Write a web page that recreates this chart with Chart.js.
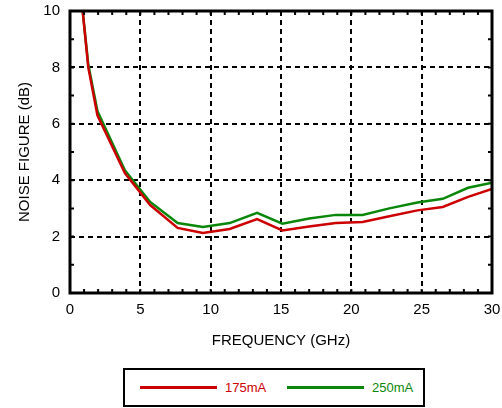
<!DOCTYPE html>
<html>
<head>
<meta charset="utf-8">
<script src="https://cdn.jsdelivr.net/npm/chart.js@4/dist/chart.umd.min.js"></script>
<style>
  html, body { margin: 0; padding: 0; background: #fff; }
  #wrap { position: relative; width: 502px; height: 408px; }
  #box { position: absolute; left: 0; top: 0; width: 502px; height: 360px; }
  #legend { position: absolute; left: 123px; top: 368px; width: 298px; height: 35px;
            border: 2px solid #000; font-family: "Liberation Sans", Arial, sans-serif; font-size: 13px; }
  .item { position: absolute; top: 0; height: 35px; display: flex; align-items: center; }
  .swatch { display: inline-block; width: 77px; height: 3px; margin-right: 8px; }
</style>
</head>
<body>
<div id="wrap">
  <div id="box"><canvas id="c"></canvas></div>
  <div id="legend"></div>
</div>
<script>
// ---- data ----
const freqGHz   = [0.9, 1.3, 1.95, 3.9, 5.7, 7.65, 9.45, 11.35, 13.3, 15.1, 17.0, 18.9, 20.8, 22.7, 24.7, 26.5, 28.3, 30];
const nf175mA   = [10, 8.0, 6.3, 4.25, 3.12, 2.31, 2.13, 2.27, 2.62, 2.22, 2.36, 2.48, 2.52, 2.72, 2.93, 3.05, 3.41, 3.69];
const nf250mA   = [10, 8.1, 6.45, 4.35, 3.23, 2.48, 2.34, 2.48, 2.84, 2.46, 2.64, 2.77, 2.77, 3.0, 3.21, 3.34, 3.73, 3.91];
const seriesLabels = ["175mA", "250mA"];
const seriesColors = ["#cc0000", "#0a870a"];
const xTitle = "FREQUENCY (GHz)";
const yTitle = "NOISE FIGURE (dB)";

const toPts = (xs, ys) => xs.map((x, i) => ({ x: x, y: ys[i] }));
const FONT = "'Liberation Sans', Arial, sans-serif";

const framePlugin = {
  id: 'frame',
  afterDatasetsDraw(chart) {
    const { ctx, chartArea: a, scales: { x, y } } = chart;
    ctx.save();
    ctx.strokeStyle = '#000';
    ctx.lineWidth = 2;
    const L = 4;
    for (let v = 1; v < 30; v++) {
      const px = x.getPixelForValue(v);
      ctx.beginPath();
      ctx.moveTo(px, a.bottom); ctx.lineTo(px, a.bottom - L);
      ctx.moveTo(px, a.top); ctx.lineTo(px, a.top + L);
      ctx.stroke();
    }
    for (let v = 1; v < 10; v++) {
      const py = y.getPixelForValue(v);
      ctx.beginPath();
      ctx.moveTo(a.left, py); ctx.lineTo(a.left + L, py);
      ctx.moveTo(a.right, py); ctx.lineTo(a.right - L, py);
      ctx.stroke();
    }
    ctx.lineWidth = 3;
    ctx.strokeRect(a.left, a.top, a.right - a.left, a.bottom - a.top);
    ctx.restore();
  }
};

const edgeTransparent = (max) => (c) => (c.tick && (c.tick.value === 0 || c.tick.value === max)) ? 'rgba(0,0,0,0)' : '#000';

new Chart(document.getElementById('c'), {
  type: 'line',
  data: {
    datasets: [
      { label: seriesLabels[0], data: toPts(freqGHz, nf175mA), borderColor: seriesColors[0], backgroundColor: seriesColors[0],
        borderWidth: 2.5, pointRadius: 0, tension: 0, fill: false },
      { label: seriesLabels[1], data: toPts(freqGHz, nf250mA), borderColor: seriesColors[1], backgroundColor: seriesColors[1],
        borderWidth: 2.5, pointRadius: 0, tension: 0, fill: false }
    ]
  },
  options: {
    responsive: true,
    maintainAspectRatio: false,
    animation: false,
    layout: { padding: { top: 11, right: 10, left: 0, bottom: 0 } },
    plugins: { legend: { display: false }, tooltip: { enabled: false } },
    scales: {
      x: {
        type: 'linear', min: 0, max: 30,
        ticks: { stepSize: 5, padding: 8, color: '#000', font: { family: FONT, size: 15 }, maxRotation: 0 },
        grid: { color: edgeTransparent(30), lineWidth: 2, drawTicks: false },
        border: { display: false, dash: [5, 4] },
        title: { display: true, text: xTitle, color: '#000', font: { family: FONT, size: 15 }, padding: { top: 0, bottom: 10 } },
        afterFit(s) { s.height = 67; s.paddingLeft = 0; s.paddingRight = 0; }
      },
      y: {
        min: 0, max: 10,
        ticks: { stepSize: 2, padding: 10, color: '#000', font: { family: FONT, size: 15 } },
        grid: { color: edgeTransparent(10), lineWidth: 2, drawTicks: false },
        border: { display: false, dash: [5, 4] },
        title: { display: true, text: yTitle, color: '#000', font: { family: FONT, size: 15 }, padding: { top: 16, bottom: 0 } },
        afterFit(s) { s.width = 70; s.paddingTop = 0; s.paddingBottom = 0; }
      }
    }
  },
  plugins: [framePlugin]
});

// HTML legend built from the series arrays
const leg = document.getElementById('legend');
const lefts = [15, 162];
seriesLabels.forEach((lab, i) => {
  const it = document.createElement('div');
  it.className = 'item';
  it.style.left = lefts[i] + 'px';
  it.style.color = seriesColors[i];
  const sw = document.createElement('span');
  sw.className = 'swatch';
  sw.style.background = seriesColors[i];
  const tx = document.createElement('span');
  tx.textContent = lab;
  it.appendChild(sw); it.appendChild(tx);
  leg.appendChild(it);
});
</script>
</body>
</html>
